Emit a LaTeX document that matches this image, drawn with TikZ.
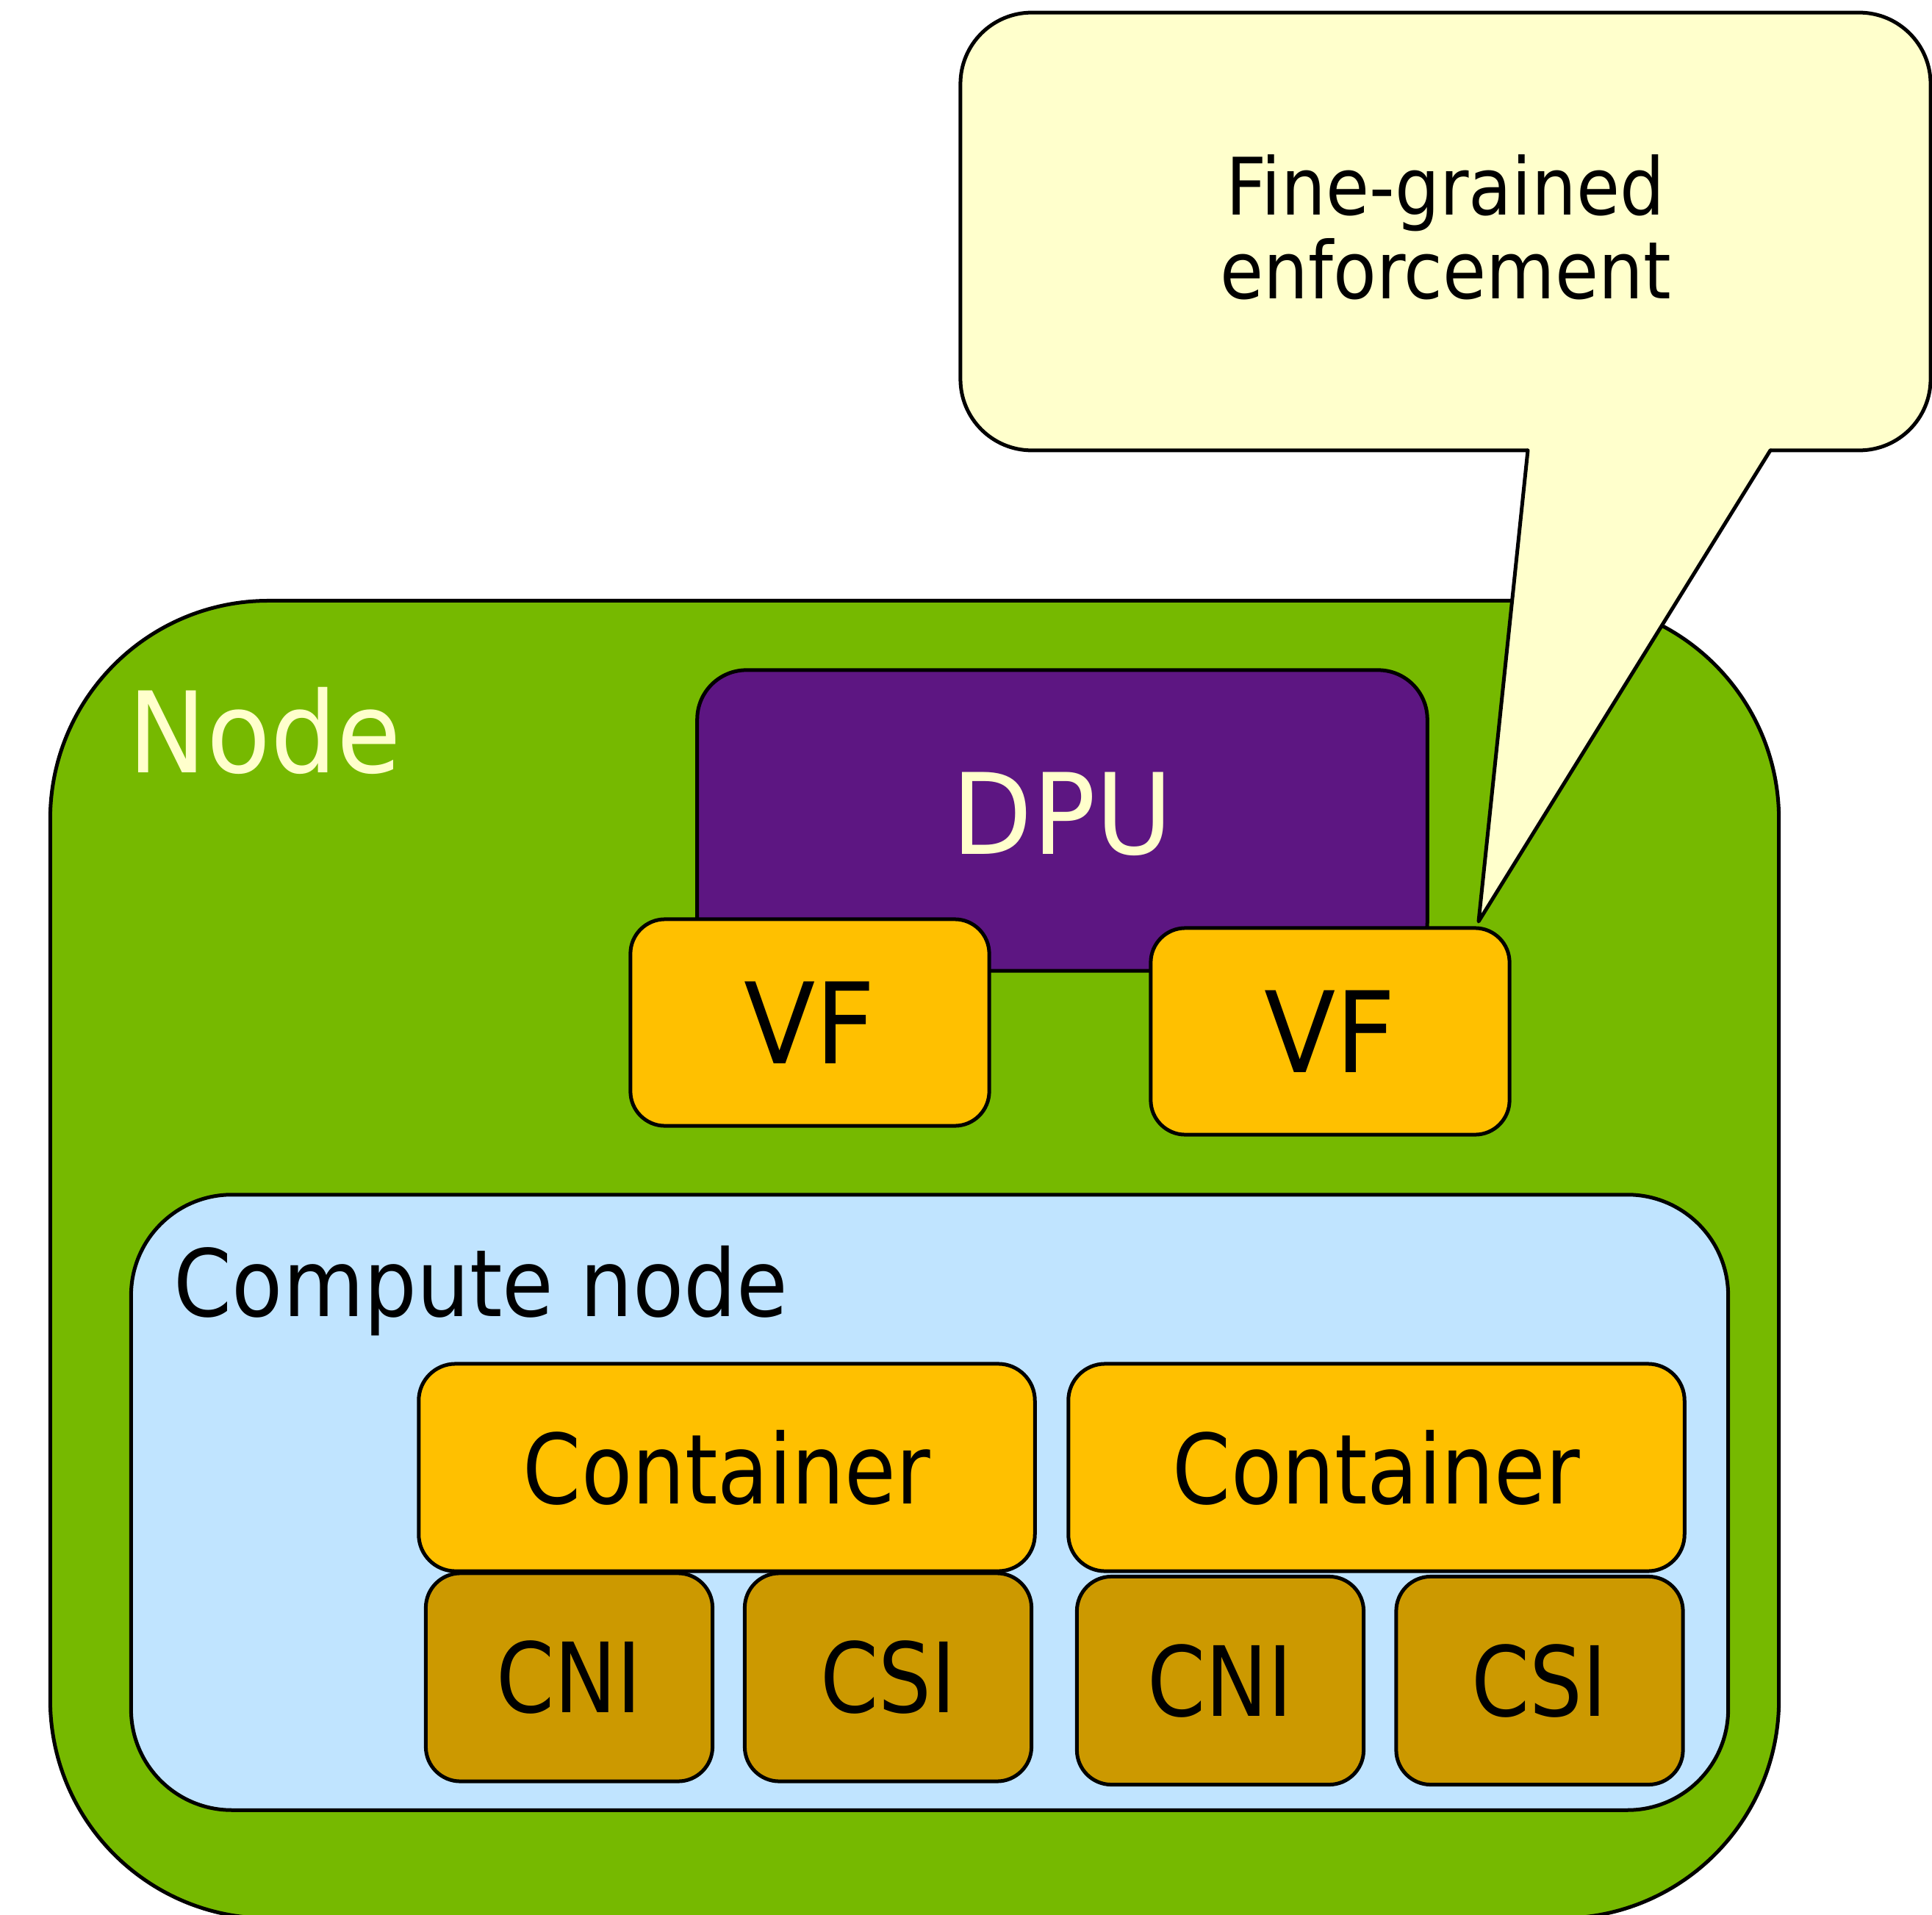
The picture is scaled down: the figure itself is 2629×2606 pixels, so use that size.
\documentclass[tikz,border=0pt]{standalone}
\usepackage{fontspec}
\setmainfont{DejaVu Sans}[FakeStretch=0.88]
\newfontfamily\bigfamily{DejaVu Sans}[FakeStretch=0.93]
\newfontfamily\midfamily{DejaVu Sans}[FakeStretch=0.86]
\newfontfamily\hostfamily{DejaVu Sans}[FakeStretch=0.895]
\newfontfamily\notefamily{DejaVu Sans}[FakeStretch=0.89]

\definecolor{nvgreen}{HTML}{76B900}
\definecolor{dpupurple}{HTML}{5D1682}
\definecolor{vforange}{HTML}{FFC000}
\definecolor{plugingold}{HTML}{CC9900}
\definecolor{hostblue}{HTML}{C0E4FF}
\definecolor{notefill}{HTML}{FFFFCC}
\definecolor{lighttext}{HTML}{FFFFCC}

\tikzset{
  outline/.style={draw=black, line width=0.05cm},
  box/.style={outline, inner sep=0pt, rectangle, anchor=center},
  bigtext/.style={font=\bigfamily\fontsize{43.5}{48}\selectfont},
  midtext/.style={font=\midfamily\fontsize{37.5}{42}\selectfont},
  vfbox/.style={box, fill=vforange, rounded corners=0.47cm, minimum width=4.88cm, minimum height=2.81cm, bigtext},
  conbox/.style={box, fill=vforange, rounded corners=0.5cm, minimum width=8.38cm, minimum height=2.82cm, midtext},
  plugbox/.style={box, fill=plugingold, rounded corners=0.47cm, minimum width=3.9cm, minimum height=2.83cm, midtext},
}

\begin{document}
\begin{tikzpicture}[x=0.01cm, y=-0.01cm]
\useasboundingbox (0,0) rectangle (2629,2606);

% worker node
\node[box, fill=nvgreen, rounded corners=2.97cm, minimum width=23.51cm, minimum height=17.92cm] (node) at (1244.5,1714) {};
\node[anchor=base west, inner sep=0pt, text=lighttext, bigtext] (nodelabel) at (174,1051) {Node};

% DPU and its virtual functions
\node[box, fill=dpupurple, rounded corners=0.67cm, minimum width=9.93cm, minimum height=4.09cm] (dpu) at (1445.5,1116.5) {};
\node[inner sep=0pt, text=lighttext, bigtext] (dpulabel) at (1445.5,1108) {DPU};
\node[vfbox] (vfa) at (1102,1391.5) {VF};
\node[vfbox] (vfb) at (1810,1403.5) {VF};

% compute node with containers and their plugins
\node[box, fill=hostblue, rounded corners=1.37cm, minimum width=21.72cm, minimum height=8.37cm] (compute) at (1265,2044.5) {};
\node[anchor=base west, inner sep=0pt, font=\hostfamily\fontsize{36}{40}\selectfont] (computelabel) at (236,1791) {Compute node};

\node[conbox] (cona) at (989,1997) {Container};
\node[conbox] (conb) at (1873,1997) {Container};

\node[plugbox] (cnia) at (774.5,2282.5) {CNI};
\node[plugbox] (csia) at (1208.5,2282.5) {CSI};
\node[plugbox] (cnib) at (1660.5,2287) {CNI};
\node[plugbox] (csib) at (2095,2287) {CSI};

% callout pointing at the second VF
\node[fill=notefill, inner sep=0pt, rounded corners=0.97cm, minimum width=13.18cm, minimum height=5.94cm] (callout) at (1967,315) {};
\coordinate (tip) at (2012,1254);
\coordinate (pa) at (2079,0 |- callout.south);
\coordinate (pb) at (2409,0 |- callout.south);
\fill[notefill] ([yshift=0.04cm]pa) -- (tip) -- ([yshift=0.04cm]pb) -- cycle;
\draw[outline, rounded corners=0.97cm] (pa) -- (callout.south west) -- (callout.north west)
  -- (callout.north east) -- (callout.south east) -- (pb);
\draw[outline, line join=round, line cap=round] (pa) -- (tip) -- (pb);
\node[inner sep=0pt, align=center, font=\notefamily\fontsize{30.7}{32.4}\selectfont] (notetext) at (1967,309) {Fine-grained\\enforcement};
\end{tikzpicture}
\end{document}
